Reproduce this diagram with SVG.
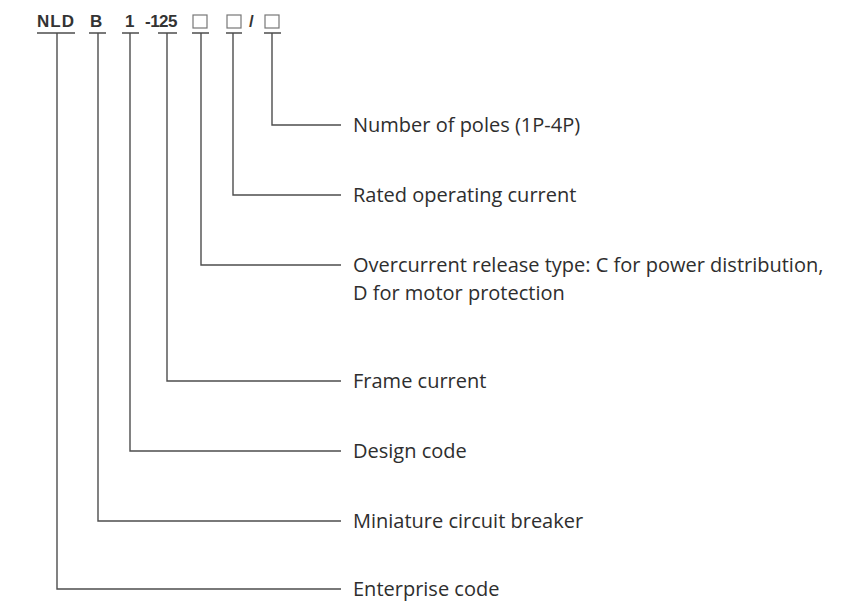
<svg xmlns="http://www.w3.org/2000/svg" width="858" height="602" viewBox="0 0 858 602">
<style>
.code{font-family:"Liberation Sans",Arial,sans-serif;font-weight:bold;font-size:17px;fill:#333;}
.lbl{font-family:"Open Sans","Noto Sans",sans-serif;font-size:20px;fill:#2e2e2e;}
.ln{fill:none;stroke:#4d4d4d;stroke-width:1.4;}
.box{fill:none;stroke:#777;stroke-width:1.2;}
</style>
<rect width="858" height="602" fill="#ffffff"/>
<g id="code">
<text class="code" x="37" y="27" letter-spacing="1">NLD</text>
<text class="code" x="90" y="27">B</text>
<text class="code" x="125" y="27">1</text>
<text class="code" x="145" y="27" letter-spacing="-0.5">-125</text>
<rect class="box" x="193" y="15" width="14" height="13"/>
<rect class="box" x="227" y="15" width="14" height="13"/>
<text class="code" x="249" y="27">/</text>
<rect class="box" x="265" y="15" width="14" height="13"/>
</g>
<g id="connectors">
<path class="ln" d="M37 33H75M57 33V589H341"/>
<path class="ln" d="M89 33H106M98 33V521H341"/>
<path class="ln" d="M122 33H139M130 33V451H341"/>
<path class="ln" d="M158 33H177M167 33V381H341"/>
<path class="ln" d="M192 33H209M201 33V265H341"/>
<path class="ln" d="M226 33H242M233 33V195H341"/>
<path class="ln" d="M264 33H281M272 33V125H341"/>
</g>
<g id="n-poles"><text class="lbl" x="353" y="132">Number of poles (1P-4P)</text></g>
<g id="n-rated"><text class="lbl" x="353" y="202">Rated operating current</text></g>
<g id="n-release"><text class="lbl" x="353" y="272">Overcurrent release type: C for power distribution,</text><text class="lbl" x="353" y="300">D for motor protection</text></g>
<g id="n-frame"><text class="lbl" x="353" y="388">Frame current</text></g>
<g id="n-design"><text class="lbl" x="353" y="458">Design code</text></g>
<g id="n-mcb"><text class="lbl" x="353" y="528">Miniature circuit breaker</text></g>
<g id="n-enterprise"><text class="lbl" x="353" y="596">Enterprise code</text></g>
</svg>
